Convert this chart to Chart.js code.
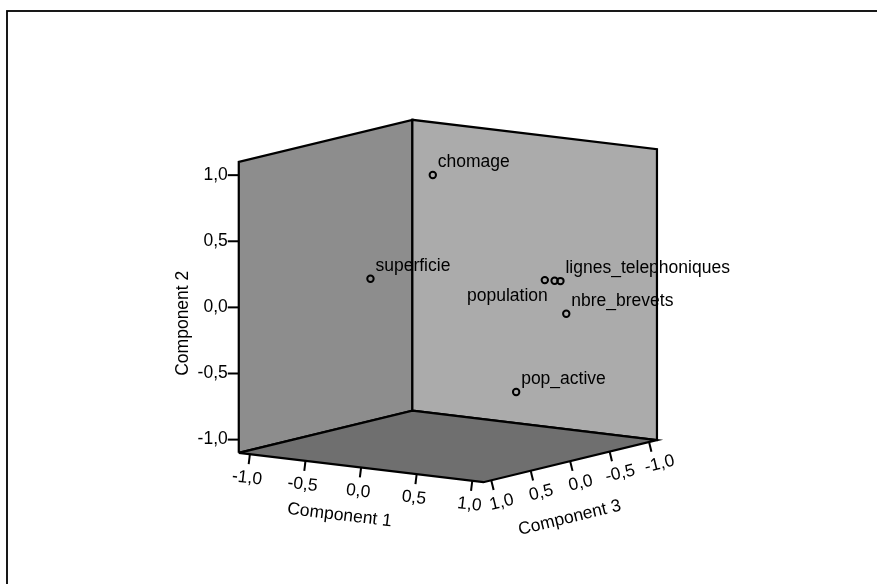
<!DOCTYPE html>
<html lang="fr">
<head>
<meta charset="utf-8">
<title>Component Plot in Rotated Space</title>
<script src="https://cdn.jsdelivr.net/npm/chart.js@4.4.1/dist/chart.umd.min.js"></script>
<style>
  html, body { margin: 0; padding: 0; background: #fff; }
  #wrap { width: 877px; height: 584px; }
</style>
</head>
<body>
<div id="wrap"><canvas id="graphe" width="877" height="584"></canvas></div>
<script>
// =========================================================
// DONNEES (saturations sur les 3 composantes)
// =========================================================
const variables  = ['chomage', 'superficie', 'population', '', 'lignes_telephoniques', 'nbre_brevets', 'pop_active'];
const component1 = [-0.10, -0.10, 0.95, 0.96,  0.97,  0.93,  0.60];
const component2 = [ 0.95,  0.28, 0.27, 0.25,  0.24, -0.03, -0.63];
const component3 = [ 0.05,  0.84, 0.11, 0.00, -0.06, -0.19, -0.02];

const tickValues = [-1.0, -0.5, 0.0, 0.5, 1.0];
const tickLabels = ['-1,0', '-0,5', '0,0', '0,5', '1,0'];
const axisTitles = ['Component 1', 'Component 2', 'Component 3'];

// =========================================================
// PROJECTION 3D -> 2D (oblique, unité = 1 sur component 2)
// =========================================================
const R  = 1.1;                 // demi-étendue de la boîte
const P1 = [0.835, -0.101];     // direction écran de component 1
const P3 = [-0.5926, -0.1448];  // direction écran de component 3

function proj(c1, c2, c3) {
    return { x: P1[0] * c1 + P3[0] * c3, y: c2 + P1[1] * c1 + P3[1] * c3 };
}

const FONT = '17.5px "Liberation Sans", Arial, sans-serif';

// faces de la boîte (polygones fermés)
const mur_gauche = [proj(-R, -R, R), proj(-R, R, R), proj(-R, R, -R), proj(-R, -R, -R), proj(-R, -R, R)];
const mur_droit  = [proj(-R, -R, -R), proj(-R, R, -R), proj(R, R, -R), proj(R, -R, -R), proj(-R, -R, -R)];
const sol        = [proj(-R, -R, R), proj(-R, -R, -R), proj(R, -R, -R), proj(R, -R, R), proj(-R, -R, R)];

const points = variables.map((v, i) => proj(component1[i], component2[i], component3[i]));

function face(data, color) {
    return {
        data, showLine: true, fill: 'shape', tension: 0,
        backgroundColor: color, borderColor: '#000', borderWidth: 2.2,
        borderJoinStyle: 'miter', pointRadius: 0
    };
}

// =========================================================
// DECOR : cadre, graduations, titres, étiquettes
// =========================================================
const decor = {
    id: 'decor',
    beforeDraw(chart) {
        const ctx = chart.ctx;
        ctx.save();
        ctx.fillStyle = '#fff';
        ctx.fillRect(0, 0, chart.width, chart.height);
        ctx.strokeStyle = '#000';
        ctx.lineWidth = 1.8;
        ctx.strokeRect(7, 11, 1000, 1000);
        ctx.restore();
    },
    afterDatasetsDraw(chart) {
        const ctx = chart.ctx;
        const sx = chart.scales.x, sy = chart.scales.y;
        const px = p => ({ x: sx.getPixelForValue(p.x), y: sy.getPixelForValue(p.y) });

        ctx.save();
        ctx.font = FONT;
        ctx.fillStyle = '#000';
        ctx.strokeStyle = '#000';
        ctx.lineWidth = 2;

        // --- component 2 (arête verticale gauche)
        ctx.textAlign = 'right';
        ctx.textBaseline = 'middle';
        tickValues.forEach((t, i) => {
            const p = px(proj(-R, t, R));
            ctx.beginPath(); ctx.moveTo(p.x - 11, p.y); ctx.lineTo(p.x, p.y); ctx.stroke();
            ctx.fillText(tickLabels[i], p.x - 11, p.y);
        });
        const t2 = px(proj(-R, -0.12, R));
        ctx.save();
        ctx.translate(t2.x - 56, t2.y);
        ctx.rotate(-Math.PI / 2);
        ctx.textAlign = 'center';
        ctx.fillText(axisTitles[1], 0, 0);
        ctx.restore();

        // --- axes au sol (component 1 et 3)
        function axeSol(at, a, b, title, titlePos, titleOff, along) {
            const pa = px(a), pb = px(b);
            const len = Math.hypot(pb.x - pa.x, pb.y - pa.y);
            const d = { x: (pb.x - pa.x) / len, y: (pb.y - pa.y) / len };
            const n = { x: -d.y, y: d.x };
            const ang = Math.atan2(d.y, d.x);
            ctx.textAlign = 'center';
            ctx.textBaseline = 'middle';
            tickValues.forEach((t, i) => {
                const p = px(at(t));
                ctx.beginPath(); ctx.moveTo(p.x, p.y); ctx.lineTo(p.x + 10 * n.x, p.y + 10 * n.y); ctx.stroke();
                ctx.save();
                ctx.translate(p.x + 24 * n.x + along * d.x, p.y + 24 * n.y + along * d.y);
                ctx.rotate(ang);
                ctx.fillText(tickLabels[i], 0, 0);
                ctx.restore();
            });
            const q = px(at(titlePos));
            ctx.save();
            ctx.translate(q.x + titleOff * n.x, q.y + titleOff * n.y);
            ctx.rotate(ang);
            ctx.fillText(title, 0, 0);
            ctx.restore();
        }
        axeSol(t => proj(t, -R, R), proj(-R, -R, R), proj(R, -R, R), axisTitles[0], -0.14, 50, 0);
        axeSol(t => proj(R, -R, t), proj(R, -R, R), proj(R, -R, -R), axisTitles[2], 0.17, 55, 5);

        // --- étiquettes des variables
        variables.forEach((v, i) => {
            if (!v) return;
            const p = px(points[i]);
            ctx.textBaseline = 'middle';
            if (v === 'population') {
                ctx.textAlign = 'right';
                ctx.fillText(v, p.x + 3, p.y + 16);
            } else {
                ctx.textAlign = 'left';
                ctx.fillText(v, p.x + 5, p.y - 13);
            }
        });
        ctx.restore();
    }
};

// =========================================================
// GRAPHIQUE
// =========================================================
new Chart(document.getElementById('graphe'), {
    type: 'scatter',
    data: {
        datasets: [
            {
                data: points, pointRadius: 3.2, pointBorderWidth: 2,
                pointBorderColor: '#000', pointBackgroundColor: 'rgba(0,0,0,0)'
            },
            face(sol, '#6f6f6f'),
            face(mur_droit, '#ababab'),
            face(mur_gauche, '#8d8d8d')
        ]
    },
    options: {
        responsive: false,
        animation: false,
        events: [],
        layout: { padding: 0 },
        plugins: { legend: { display: false }, tooltip: { enabled: false } },
        scales: {
            x: { type: 'linear', min: -3.3185, max: 3.1778, display: false },
            y: { type: 'linear', min: -2.0948, max: 2.2311, display: false }
        }
    },
    plugins: [decor]
});
</script>
</body>
</html>
